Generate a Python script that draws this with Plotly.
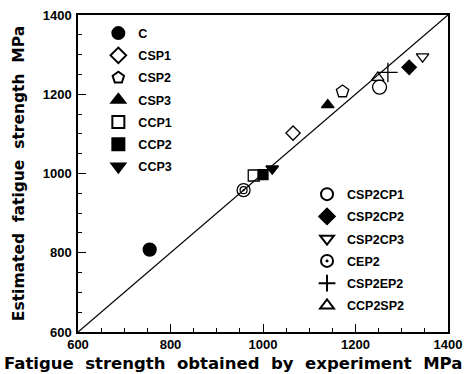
import plotly.graph_objects as go

# Data (MPa): experimental (x) vs estimated (y)
names = ["C", "CSP1", "CSP2", "CSP3", "CCP1", "CCP2", "CCP3",
         "CSP2CP1", "CSP2CP2", "CSP2CP3", "CEP2", "CSP2EP2", "CCP2SP2"]
exp_vals = [755, 1065, 1172, 1140, 980, 1000, 1020,
            1252, 1316, 1345, 958, 1270, 1248]
est_vals = [808, 1102, 1207, 1173, 995, 997, 1012,
            1218, 1268, 1295, 958, 1255, 1242]
symbols = ["circle", "diamond-open", "pentagon-open", "triangle-up", "square-open",
           "square", "triangle-down", "circle-open", "diamond", "triangle-down-open",
           "circle-open-dot", "cross-thin-open", "triangle-up-open"]
sizes = [13, 11, 13, 11, 11, 10, 11, 14, 11, 11, 13, 14, 11]
legend_ids = ["legend"] * 7 + ["legend2"] * 6

line_x = [600, 1400]
line_y = [600, 1400]
x_ticks = [600, 800, 1000, 1200, 1400]
y_ticks = [600, 800, 1000, 1200, 1400]
x_title = "Fatigue  strength  obtained  by  experiment  MPa"
y_title = "Estimated  fatigue  strength  MPa"

FONT = "Liberation Sans"
TFONT = "DejaVu Sans"

fig = go.Figure()
fig.add_trace(go.Scatter(x=line_x, y=line_y, mode="lines",
                         line=dict(color="black", width=1.3), showlegend=False,
                         hoverinfo="skip"))

for i, n in enumerate(names):
    fig.add_trace(go.Scatter(
        x=[exp_vals[i]], y=[est_vals[i]], mode="markers", name=n,
        legend=legend_ids[i], legendgroup=n,
        marker=dict(symbol=symbols[i], size=sizes[i], color="black",
                    line=dict(color="black", width=1.3)),
    ))

# inner ring for CEP2 (double circle)
fig.add_trace(go.Scatter(x=[exp_vals[10]], y=[est_vals[10]], mode="markers",
                         showlegend=False,
                         marker=dict(symbol="circle-open", size=7, color="black",
                                     line=dict(color="black", width=1.2))))

axis_common = dict(
    showgrid=False, zeroline=False, showline=True, linecolor="black", linewidth=1.5,
    mirror=True, ticks="inside", ticklen=8, tickwidth=1.3, tickcolor="black",
    minor=dict(ticks="inside", ticklen=4, tickwidth=1, tickcolor="black", dtick=50),
    tickfont=dict(family=FONT, size=13, color="black", weight="bold"),
    range=[600, 1400], dtick=200, automargin=False,
)

legend_font = dict(family=FONT, size=12.5, color="black", weight="bold")

fig.update_layout(
    width=467, height=374,
    margin=dict(l=78, r=19, t=15, b=42),
    paper_bgcolor="white", plot_bgcolor="white",
    xaxis=dict(axis_common, tickvals=x_ticks, ticklabelstandoff=0),
    yaxis=dict(axis_common, tickvals=y_ticks, ticklabelstandoff=2,
               title=dict(text=y_title,
                          font=dict(family=TFONT, size=15.5, color="black", weight="bold"),
                          standoff=14)),
    legend=dict(x=0.055, y=0.989, xanchor="left", yanchor="top",
                bgcolor="rgba(0,0,0,0)", tracegroupgap=3, itemsizing="constant",
                font=legend_font),
    legend2=dict(x=0.619, y=0.481, xanchor="left", yanchor="top",
                 bgcolor="rgba(0,0,0,0)", tracegroupgap=3, itemsizing="constant",
                 font=legend_font),
)

fig.add_annotation(text=x_title, xref="paper", yref="paper",
                   x=(233 - 78) / 370, y=-0.1, xanchor="center", yanchor="middle",
                   showarrow=False,
                   font=dict(family=TFONT, size=16.5, color="black", weight="bold"))

fig.write_html("out.html")
